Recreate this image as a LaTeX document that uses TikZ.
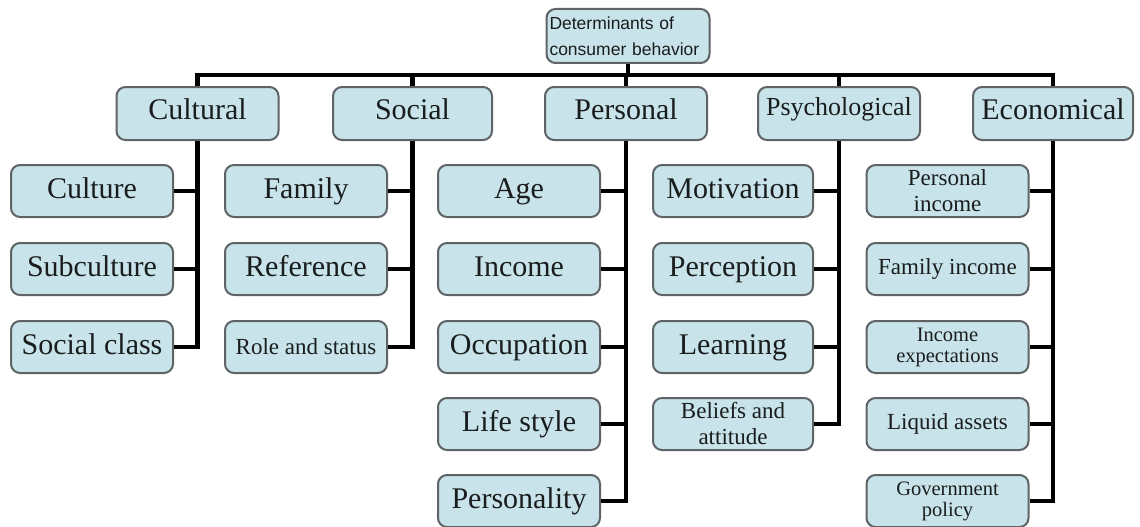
\documentclass[tikz,border=0pt]{standalone}
\usepackage{fontspec}
\setmainfont{Liberation Serif}
\newfontfamily\hdfont{Liberation Sans}
\definecolor{boxfill}{HTML}{C8E3E9}
\definecolor{boxline}{HTML}{5E6466}
\definecolor{txt}{HTML}{1A1D1D}
\begin{document}
\begin{tikzpicture}[x=1pt,y=-1pt,
  box/.style={draw=boxline,line width=2pt,fill=boxfill,rounded corners=9pt,
    minimum width=162pt,minimum height=52pt,inner sep=2pt,text=txt,align=center},
  big/.style={box,font=\fontsize{30}{32}\selectfont,text height=20pt,text depth=6pt},
  small/.style={box,font=\fontsize{23}{26}\selectfont},
  tiny/.style={box,font=\fontsize{20.5}{21}\selectfont},
  conn/.style={line width=4.5pt,black}]
\useasboundingbox (0,0) rectangle (1140,527);
% root
\node[box,minimum width=163pt,minimum height=54pt,align=left,
  font=\hdfont\fontsize{17.5}{26}\selectfont,text width=157pt] (root) at (628,36)
  {Determinants of\\consumer behavior};
% level 1
\node[big,minimum height=53pt] (cul) at (197.5,113.5) {\raisebox{1.5pt}{Cultural}};
\node[big,minimum height=53pt,minimum width=159pt] (soc) at (412.5,113.5) {\raisebox{1.5pt}{Social}};
\node[big,minimum height=53pt] (per) at (626,113.5) {\raisebox{1.5pt}{Personal}};
\node[box,font=\fontsize{26}{28}\selectfont,minimum height=53pt,text height=18pt,text depth=6pt] (psy) at (839,113.5) {\raisebox{4pt}{Psychological}};
\node[big,minimum height=53pt,minimum width=160pt] (eco) at (1053,113.5) {\raisebox{1.5pt}{Economical}};
% cultural children
\node[big] (c1) at (92,191) {Culture};
\node[big] (c2) at (92,269) {Subculture};
\node[big] (c3) at (92,347) {Social class};
% social children
\node[big] (s1) at (306,191) {Family};
\node[big] (s2) at (306,269) {Reference};
\node[small] (s3) at (306,347) {Role and status};
% personal children
\node[big] (p1) at (519,191) {Age};
\node[big] (p2) at (519,269) {Income};
\node[big] (p3) at (519,347) {Occupation};
\node[big] (p4) at (519,424) {Life style};
\node[big] (p5) at (519,501) {Personality};
% psychological children
\node[big,minimum width=160pt] (y1) at (733,191) {Motivation};
\node[big,minimum width=160pt] (y2) at (733,269) {Perception};
\node[big,minimum width=160pt] (y3) at (733,347) {Learning};
\node[small,minimum width=160pt] (y4) at (733,424) {Beliefs and\\attitude};
% economical children
\node[small] (e1) at (947.5,191) {Personal\\income};
\node[small] (e2) at (947.5,269) {Family income};
\node[tiny] (e3) at (947.5,347) {Income\\expectations};
\node[small] (e4) at (947.5,424) {Liquid assets};
\node[tiny] (e5) at (947.5,501) {Government\\policy};
% connectors top
\coordinate (bar) at (0,75);
\draw[conn] (root.south) -- (root.south |- bar);
\draw[conn] (cul.north) |- (eco.north |- bar) -- (eco.north);
\draw[conn] (soc.north) -- (soc.north |- bar);
\draw[conn] (per.north) -- (per.north |- bar);
\draw[conn] (psy.north) -- (psy.north |- bar);
% connectors children
\foreach \p/\c in {cul/c1,cul/c2,cul/c3,soc/s1,soc/s2,soc/s3,per/p1,per/p2,per/p3,per/p4,per/p5,psy/y1,psy/y2,psy/y3,psy/y4,eco/e1,eco/e2,eco/e3,eco/e4,eco/e5}
  \draw[conn] (\p.south) |- (\c.east);
\end{tikzpicture}
\end{document}
